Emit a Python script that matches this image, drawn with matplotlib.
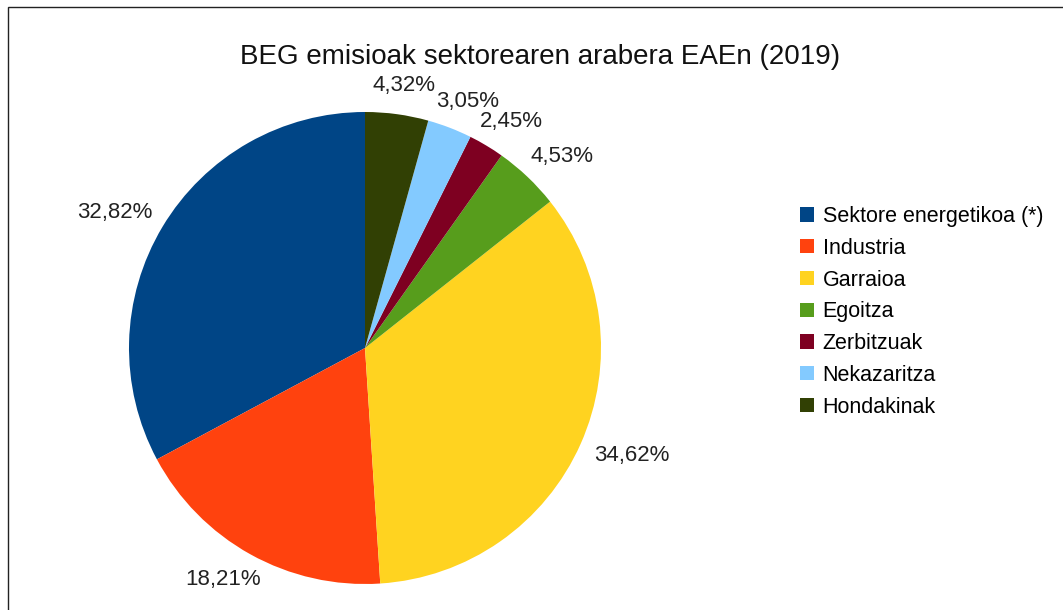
import numpy as np
import matplotlib
matplotlib.use("Agg")
import matplotlib.pyplot as plt
from matplotlib.patches import Rectangle

plt.rcParams['font.family'] = ['Liberation Sans', 'DejaVu Sans']

title = "BEG emisioak sektorearen arabera EAEn (2019)"
categories = ["Sektore energetikoa (*)", "Industria", "Garraioa", "Egoitza",
              "Zerbitzuak", "Nekazaritza", "Hondakinak"]
values = [32.82, 18.21, 34.62, 4.53, 2.45, 3.05, 4.32]
colors = ["#004586", "#ff420e", "#ffd320", "#579d1c", "#7e0021", "#83caff", "#314004"]

W, H = 1063, 610
fig = plt.figure(figsize=(W / 100, H / 100), dpi=100)

# outer frame
fig.patches.append(Rectangle((8 / W, -0.05), 1.1, 1 - 7 / H + 0.05, transform=fig.transFigure,
                             fill=False, edgecolor="#222222", linewidth=1.0))

cx, cy, R = 365, 348, 236
ax = fig.add_axes([(cx - R) / W, (H - cy - R) / H, 2 * R / W, 2 * R / H])
wedges, _ = ax.pie(values, colors=colors, startangle=90, counterclock=True,
                   wedgeprops=dict(linewidth=0))
ax.set_xlim(-1, 1)
ax.set_ylim(-1, 1)
ax.set_aspect('auto')

fig.text(540 / W, 1 - 57 / H, title, ha='center', va='center', fontsize=20, color='#111111')

labels = []
for w, v in zip(wedges, values):
    t = ax.text(0, 0, f"{v:.2f}%".replace('.', ','), ha='center', va='center',
                fontsize=16, color='#222222')
    labels.append((w, t))

fig.canvas.draw()
rend = fig.canvas.get_renderer()
gap = 18
for w, t in labels:
    th = np.deg2rad((w.theta1 + w.theta2) / 2)
    ux, uy = np.cos(th), np.sin(th)
    bb = t.get_window_extent(rend)
    tw, tht = bb.width, bb.height
    x = ux * (1 + gap / R) + ux * tw / 2 / R
    y = uy * (1 + gap / R) + uy * tht / 2 / R
    t.set_position((x, y))

leg = fig.legend(wedges, categories, loc='upper left',
                 bbox_to_anchor=(800 / W, 1 - 206 / H), frameon=False,
                 fontsize=15.5, handlelength=0.65, handleheight=0.65,
                 handletextpad=0.4, labelspacing=0.5, borderpad=0, borderaxespad=0)

fig.savefig("out.png", dpi=100)
